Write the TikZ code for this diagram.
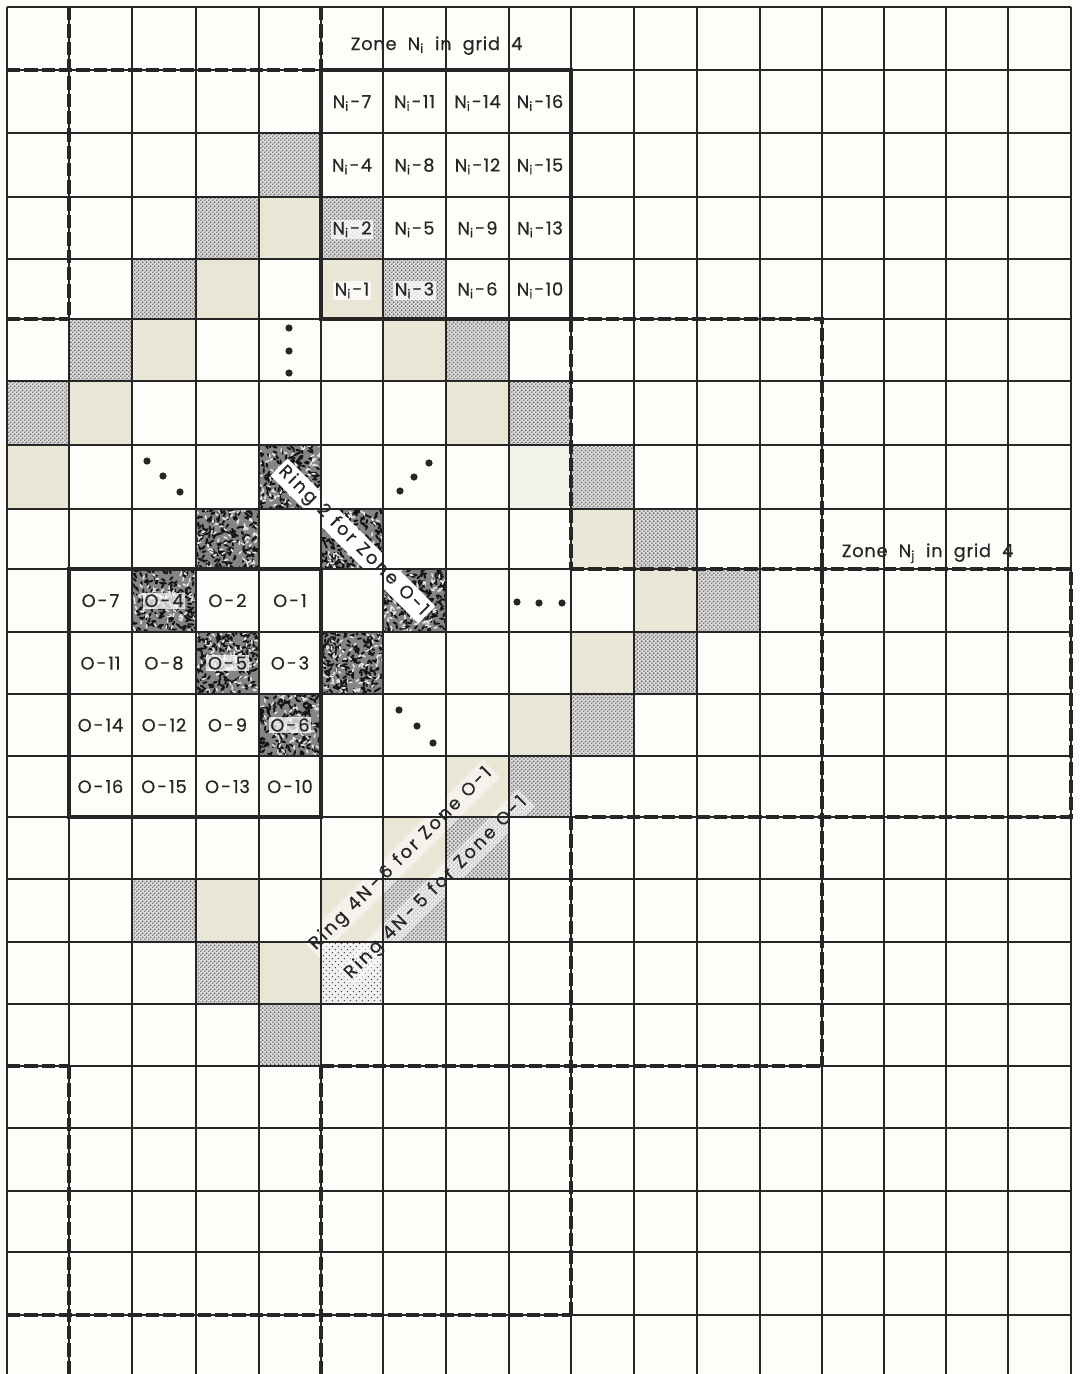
\documentclass[tikz,border=0pt]{standalone}
\usepackage{fontspec}
\setmainfont{Poppins}
\usetikzlibrary{patterns}
\definecolor{paper}{RGB}{253,253,249}
\definecolor{beige}{RGB}{233,230,213}
\definecolor{beigelt}{RGB}{242,241,234}
\definecolor{ink}{RGB}{38,38,38}
\pgfdeclarepatternformonly{stip}{\pgfqpoint{0pt}{0pt}}{\pgfqpoint{3.2pt}{3.2pt}}{\pgfqpoint{3.2pt}{3.2pt}}{%
  \pgfpathcircle{\pgfqpoint{0.8pt}{0.8pt}}{0.64pt}%
  \pgfpathcircle{\pgfqpoint{2.4pt}{2.4pt}}{0.64pt}%
  \pgfusepath{fill}}
\pgfdeclarepatternformonly{stipsparse}{\pgfqpoint{0pt}{0pt}}{\pgfqpoint{4.4pt}{4.4pt}}{\pgfqpoint{4.4pt}{4.4pt}}{%
  \pgfpathcircle{\pgfqpoint{1.1pt}{1.1pt}}{0.55pt}%
  \pgfpathcircle{\pgfqpoint{3.3pt}{3.3pt}}{0.55pt}%
  \pgfusepath{fill}}
\def\XS{{7,69,132,196,259,321,383,446,509,571,634,697,760,822,884,946,1008,1071}}
\def\YS{{7,70,133,197,259,319,381,445,509,569,632,694,756,817,879,942,1004,1066,1128,1191,1252,1315,1374}}
\newcommand\cellbox[3]{%
  \pgfmathsetmacro\xa{\XS[#2]}%
  \pgfmathsetmacro\xb{\XS[#2+1]}%
  \pgfmathsetmacro\ya{\YS[#3]}%
  \pgfmathsetmacro\yb{\YS[#3+1]}%
  \path[#1] (\xa,\ya) rectangle (\xb,\yb);}
\newcommand\coarsecell[2]{%
  \pgfmathsetmacro\xa{\XS[#1]}%
  \pgfmathsetmacro\xb{\XS[#1+1]}%
  \pgfmathsetmacro\ya{\YS[#2]}%
  \pgfmathsetmacro\yb{\YS[#2+1]}%
  \begin{scope}
    \clip (\xa,\ya) rectangle (\xb,\yb);
    \fill[black!48] (\xa,\ya) rectangle (\xb,\yb);
    \foreach \k in {1,...,190}{%
      \pgfmathsetmacro\px{\xa+rnd*(\xb-\xa)}%
      \pgfmathsetmacro\py{\ya+rnd*(\yb-\ya)}%
      \pgfmathsetmacro\an{rnd*180}%
      \fill[black!92,rotate around={\an:(\px,\py)}] (\px,\py) ellipse [x radius=2.7,y radius=1.1];}
    \foreach \k in {1,...,75}{%
      \pgfmathsetmacro\px{\xa+rnd*(\xb-\xa)}%
      \pgfmathsetmacro\py{\ya+rnd*(\yb-\ya)}%
      \pgfmathsetmacro\an{rnd*180}%
      \fill[white!90!black,rotate around={\an:(\px,\py)}] (\px,\py) ellipse [x radius=2.3,y radius=0.9];}
  \end{scope}}
\newcommand\lab[5][]{%
  \pgfmathsetmacro\xa{\XS[#3]}%
  \pgfmathsetmacro\xb{\XS[#3+1]}%
  \pgfmathsetmacro\ya{\YS[#4]}%
  \pgfmathsetmacro\yb{\YS[#4+1]}%
  \pgfmathsetmacro\cx{(\xa+\xb)/2}%
  \pgfmathsetmacro\cy{(\ya+\yb)/2+6.5}%
  \node[lbl,#1] (#2) at (\cx,\cy) {#5};}
\newcommand\Ni[1]{N\textsubscript{i}\kern1pt-\kern1pt#1}
\newcommand\Oz[1]{O\kern1.5pt-\kern1.5pt#1}
\newcommand\gap{\hspace{0.45em}}
\newcommand\tgap{\hspace{0.62em}}
\newcommand\hgap{\hspace{0.25em}}
\begin{document}
\begin{tikzpicture}[x=0.75pt,y=-0.75pt,
  lbl/.style={anchor=base,inner sep=1.2pt,text=ink,font=\fontsize{13.4}{16}\selectfont\addfontfeature{LetterSpace=4,FakeBold=0.5}},
  ringtxt/.style={inner sep=2.2pt,text=ink,font=\fontsize{13.4}{16}\selectfont\addfontfeature{LetterSpace=14,FakeBold=0.5}},
  shadelbl/.style={fill=white,fill opacity=0.75,text opacity=1},
  stipcell/.style={fill=black!15,postaction={pattern=stip,pattern color=black!82}},
  sparsecell/.style={fill=black!6,postaction={pattern=stipsparse,pattern color=black!75}},
  beigecell/.style={fill=beige},
  beigeltcell/.style={fill=beigelt},
  gridline/.style={draw=ink,line width=1.15pt},
  zoneline/.style={draw=ink,line width=2.6pt,line join=miter},
  zonedash/.style={draw=ink,line width=2.8pt,dash pattern=on 10pt off 3pt},
  dotmark/.style={fill=ink}]
\useasboundingbox (0,0) rectangle (1079,1374);
\fill[paper] (0,0) rectangle (1079,1374);
% shaded cells
\foreach \c/\r in {4/2,3/3,2/4,1/5,0/6,5/3,6/4,7/5,8/6,9/7,10/8,11/9,10/10,9/11,8/12,7/13,6/14,4/16,3/15,2/14}{\cellbox{stipcell}{\c}{\r}}
\cellbox{sparsecell}{5}{15}
\foreach \c/\r in {4/3,3/4,2/5,1/6,0/7,5/4,6/5,7/6,9/8,10/9,9/10,8/11,7/12,6/13,5/14,4/15,3/14}{\cellbox{beigecell}{\c}{\r}}
\cellbox{beigeltcell}{8}{7}
\pgfmathsetseed{1234}
\foreach \c/\r in {2/9,3/8,4/7,5/8,6/9,5/10,4/11,3/10}{\coarsecell{\c}{\r}}
% ring texts
\node[ringtxt,fill=white,rotate=-45] (ringtwo) at (353,541) {Ring\gap 2\gap for\gap Zone\gap O-1};
\node[ringtxt,fill=white,fill opacity=0.5,text opacity=1,rotate=45] (ringsix) at (401,859) {Ring\gap 4N\hgap-\hgap 6\gap for\gap Zone\gap O-1};
\node[ringtxt,fill=white,fill opacity=0.5,text opacity=1,rotate=45] (ringfive) at (436,888) {Ring\gap 4N\hgap-\hgap 5\gap for\gap Zone\gap O-1};
% zone titles
\node[lbl,anchor=base west] (zoneNi) at (349,50) {Zone\tgap N\textsubscript{i}\tgap in\tgap grid\tgap 4};
\node[lbl,anchor=base west] (zoneNj) at (840,557) {Zone\tgap N\textsubscript{j}\tgap in\tgap grid\tgap 4};
% zone Ni labels
\lab{ni7}{5}{1}{\Ni{7}}
\lab{ni11}{6}{1}{\Ni{11}}
\lab{ni14}{7}{1}{\Ni{14}}
\lab{ni16}{8}{1}{\Ni{16}}
\lab{ni4}{5}{2}{\Ni{4}}
\lab{ni8}{6}{2}{\Ni{8}}
\lab{ni12}{7}{2}{\Ni{12}}
\lab{ni15}{8}{2}{\Ni{15}}
\lab[shadelbl]{ni2}{5}{3}{\Ni{2}}
\lab{ni5}{6}{3}{\Ni{5}}
\lab{ni9}{7}{3}{\Ni{9}}
\lab{ni13}{8}{3}{\Ni{13}}
\lab[shadelbl]{ni1}{5}{4}{\Ni{1}}
\lab[shadelbl]{ni3}{6}{4}{\Ni{3}}
\lab{ni6}{7}{4}{\Ni{6}}
\lab{ni10}{8}{4}{\Ni{10}}
% zone O labels
\lab{o7}{1}{9}{\Oz{7}}
\lab[shadelbl]{o4}{2}{9}{\Oz{4}}
\lab{o2}{3}{9}{\Oz{2}}
\lab{o1}{4}{9}{\Oz{1}}
\lab{o11}{1}{10}{\Oz{11}}
\lab{o8}{2}{10}{\Oz{8}}
\lab[shadelbl]{o5}{3}{10}{\Oz{5}}
\lab{o3}{4}{10}{\Oz{3}}
\lab{o14}{1}{11}{\Oz{14}}
\lab{o12}{2}{11}{\Oz{12}}
\lab{o9}{3}{11}{\Oz{9}}
\lab[shadelbl]{o6}{4}{11}{\Oz{6}}
\lab{o16}{1}{12}{\Oz{16}}
\lab{o15}{2}{12}{\Oz{15}}
\lab{o13}{3}{12}{\Oz{13}}
\lab{o10}{4}{12}{\Oz{10}}
% grid
\foreach \i in {0,...,17}{\pgfmathsetmacro\xx{\XS[\i]}\draw[gridline] (\xx,7) -- (\xx,1374);}
\foreach \j in {0,...,21}{\pgfmathsetmacro\yy{\YS[\j]}\draw[gridline] (7,\yy) -- (1071,\yy);}
% zone outlines
\draw[zoneline] (321,70) rectangle (571,319);
\draw[zoneline] (69,569) rectangle (321,817);
\draw[zonedash] (7,70) -- (321,70);
\draw[zonedash] (69,7) -- (69,319);
\draw[zonedash] (321,7) -- (321,70);
\draw[zonedash] (7,319) -- (69,319);
\draw[zonedash] (571,319) -- (822,319) -- (822,1066);
\draw[zonedash] (571,319) -- (571,569);
\draw[zonedash] (571,569) -- (1071,569) -- (1071,817) -- (571,817);
\draw[zonedash] (571,817) -- (571,1315);
\draw[zonedash] (321,1066) -- (822,1066);
\draw[zonedash] (7,1066) -- (69,1066);
\draw[zonedash] (69,1066) -- (69,1374);
\draw[zonedash] (321,1066) -- (321,1374);
\draw[zonedash] (7,1315) -- (571,1315);
% ellipsis dots
\foreach \p in {(289,328),(289,351),(289,373),(147,461),(163,476),(180,492),(400,491),(414,477),(429,463),(517,602),(539,603),(562,603),(399,710),(417,726),(433,743)}{\fill[dotmark] \p circle[radius=3.6];}
\end{tikzpicture}
\end{document}
